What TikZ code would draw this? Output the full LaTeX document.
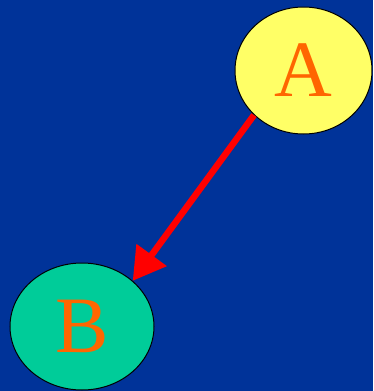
\documentclass[tikz,border=0pt]{standalone}
\usepackage{fontspec}
\setmainfont{Liberation Serif}
\usetikzlibrary{shapes.geometric,arrows.meta}
\definecolor{bgblue}{RGB}{0,51,153}
\definecolor{ayellow}{RGB}{255,255,102}
\definecolor{bgreen}{RGB}{0,204,153}
\definecolor{txtorange}{RGB}{255,102,0}
\tikzset{
  bubble/.style={ellipse, draw=black, line width=1pt, inner sep=0pt,
    text=txtorange, font=\fontsize{80}{80}\selectfont},
  redarrow/.style={draw=red, line width=6.5pt, -{Triangle[length=32pt,width=36pt]}}
}
\begin{document}
\begin{tikzpicture}[x=1pt,y=-1pt]
\fill[bgblue] (0,0) rectangle (373,391);
\useasboundingbox (0,0) rectangle (373,391);
\node[bubble, fill=ayellow, minimum width=137pt, minimum height=127pt] (A) at (303.5,70.5) {A};
\node[bubble, fill=bgreen, minimum width=144pt, minimum height=127pt] (B) at (82,326.5) {B};
\draw[redarrow] (A.222) -- (B.42);
\end{tikzpicture}
\end{document}
